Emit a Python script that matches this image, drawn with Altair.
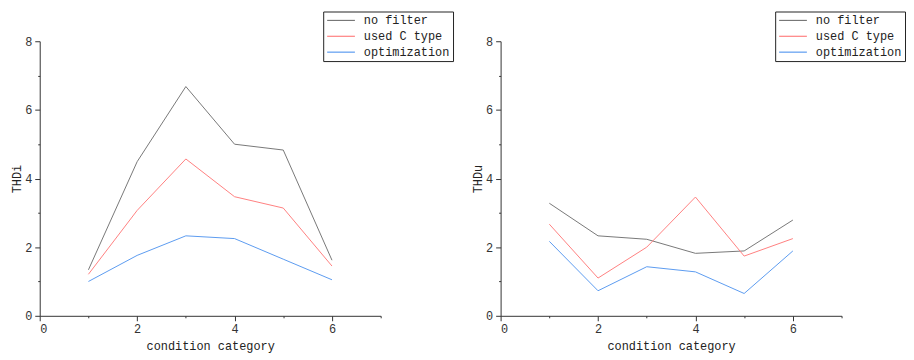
import altair as alt
import pandas as pd

categories = [1, 2, 3, 4, 5, 6]
series_names = ["no filter", "used C type", "optimization"]

thdi_no_filter = [1.34, 4.49, 6.68, 5.00, 4.83, 1.62]
thdi_c_type = [1.21, 3.07, 4.57, 3.47, 3.14, 1.45]
thdi_optim = [1.00, 1.76, 2.33, 2.25, 1.65, 1.05]

thdu_no_filter = [3.28, 2.33, 2.23, 1.82, 1.89, 2.79]
thdu_c_type = [2.67, 1.10, 2.00, 3.46, 1.74, 2.25]
thdu_optim = [2.17, 0.73, 1.43, 1.28, 0.65, 1.89]

colors = ["#777777", "#ff8080", "#5b9bf0"]
FONT = "Liberation Mono"


def make_df(vals):
    rows = []
    for name, v in zip(series_names, vals):
        for c, y in zip(categories, v):
            rows.append({"cat": c, "val": y, "series": name})
    return pd.DataFrame(rows)


df_i = make_df([thdi_no_filter, thdi_c_type, thdi_optim])
df_u = make_df([thdu_no_filter, thdu_c_type, thdu_optim])

tick_size = {"condition": {"test": "datum.value % 2 == 0", "value": 5}, "value": 2}


def panel(df, ytitle, lx):
    return alt.Chart(df).mark_line(strokeWidth=1).encode(
        x=alt.X("cat:Q", scale=alt.Scale(domain=[0, 7], nice=False, zero=True),
                axis=alt.Axis(title="condition category", values=list(range(0, 8)),
                              labelExpr="datum.value % 2 == 0 ? datum.label : ''",
                              tickSize=tick_size, grid=False, labelPadding=3,
                              titlePadding=6)),
        y=alt.Y("val:Q", scale=alt.Scale(domain=[0, 8], nice=False),
                axis=alt.Axis(title=ytitle, values=list(range(0, 9)),
                              labelExpr="datum.value % 2 == 0 ? datum.label : ''",
                              tickSize=tick_size, grid=False, labelPadding=3,
                              titlePadding=1)),
        color=alt.Color("series:N", sort=series_names,
                        scale=alt.Scale(domain=series_names, range=colors),
                        legend=alt.Legend(title=None, orient="none", legendX=lx, legendY=-30,
                                          symbolType="M-1,0H4.6", symbolSize=100,
                                          symbolStrokeWidth=1.2, rowPadding=4,
                                          strokeColor="#222222", fillColor="white",
                                          padding=3, labelOffset=26, labelFontSize=12,
                                          labelFont=FONT, labelColor="#222222")),
    ).properties(width=344, height=277)


left = panel(df_i, "THDi", 286)
right = panel(df_u, "THDu", 277)

chart = alt.hconcat(left, right, spacing=121, bounds="flush").resolve_scale(
    color="independent").configure_view(stroke=None).configure_axis(
    labelFont=FONT, titleFont=FONT, labelFontSize=12, titleFontSize=12,
    titleFontWeight="normal", domainColor="#333333", tickColor="#333333",
    labelColor="#333333", titleColor="#222222", domainWidth=1, tickWidth=1
).properties(padding={"left": 2, "top": 1, "right": 0, "bottom": 2})

chart.save("out.html", embed_options={"renderer": "svg", "actions": False})
